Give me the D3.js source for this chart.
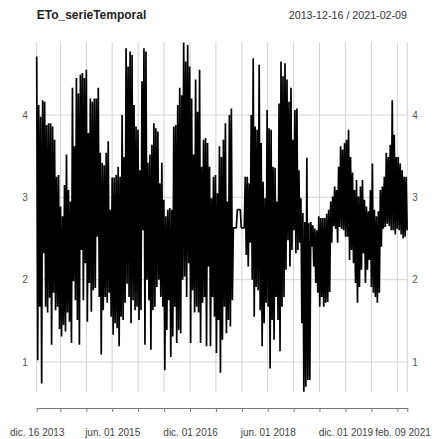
<!DOCTYPE html>
<html><head><meta charset="utf-8">
<script src="https://cdn.jsdelivr.net/npm/d3@7"></script>
<style>body{margin:0;background:#fff}svg{display:block}text{font-family:"Liberation Sans",Arial,sans-serif}</style>
</head><body>
<script>
const seriesName = "ETo_serieTemporal";
const startDate = "2013-12-16";
const endDate = "2021-02-09";
const binDays = 14; // each pair = max / min over a 14-day window
const hiVals = [4.71,4.12,3.98,4.18,4.16,3.88,3.90,3.90,3.86,3.70,3.25,3.27,2.89,2.77,3.15,3.52,3.09,2.95,4.33,3.62,
4.45,4.26,4.49,4.51,4.45,4.55,3.78,4.20,4.16,4.20,4.20,4.33,3.54,3.42,3.39,3.54,3.68,2.85,3.24,3.24,
3.27,3.37,3.25,4.00,3.49,4.81,4.59,4.77,4.73,4.12,3.86,3.82,3.33,4.41,4.81,4.77,3.42,3.52,3.64,3.90,
3.84,3.80,3.17,3.42,2.97,2.77,2.85,2.87,2.85,3.86,3.88,4.12,4.33,4.24,4.88,4.65,4.85,4.59,4.20,3.52,
4.43,4.04,4.55,3.37,3.70,3.72,3.66,3.37,2.99,3.25,3.27,3.05,3.62,3.49,3.70,3.90,2.95,4.00,4.08,2.63,
2.63,2.85,2.85,2.63,2.63,3.25,3.25,3.17,4.00,4.69,3.86,3.82,4.61,3.66,3.19,2.99,4.06,3.84,3.82,3.37,
3.36,2.95,4.14,4.65,4.47,4.63,4.43,4.16,4.33,3.70,4.06,4.08,3.33,2.99,2.81,2.70,3.48,2.69,2.70,2.66,
2.62,2.60,2.77,2.75,2.75,2.75,2.80,2.85,2.95,3.01,3.13,3.09,3.37,3.62,3.58,3.66,3.70,3.82,3.49,3.30,
3.09,3.21,3.01,3.13,3.21,2.97,2.89,2.83,3.09,3.41,2.85,2.77,2.83,3.09,3.13,3.25,3.54,3.49,3.64,4.18,
3.76,3.49,3.49,3.41,3.33,3.25,3.25];
const loVals = [1.02,1.67,0.74,2.32,1.67,1.60,1.78,1.21,1.84,1.63,1.67,1.40,1.31,1.45,1.37,1.60,1.49,1.23,1.98,1.75,
1.51,1.21,2.36,1.75,2.20,1.49,1.96,1.61,1.87,1.90,2.52,1.79,1.09,1.63,1.79,1.72,1.84,1.55,1.33,1.47,
1.41,1.19,1.55,1.51,1.72,1.95,1.79,1.47,1.75,1.63,1.67,1.51,1.63,2.60,1.21,2.00,1.75,1.15,1.63,1.67,
1.91,2.00,1.79,1.67,0.90,1.39,1.75,1.06,1.31,1.67,1.23,1.39,1.35,2.00,2.04,1.79,2.20,1.23,1.87,1.60,
1.67,1.60,1.23,1.72,1.79,1.19,2.16,1.19,1.79,1.55,1.11,1.51,0.87,1.27,1.67,1.35,1.51,1.43,1.75,2.63,
2.63,2.85,2.85,2.63,2.63,2.30,2.16,2.45,2.00,1.55,1.91,1.87,1.63,1.19,1.47,1.72,1.67,0.92,1.51,1.27,
1.79,1.51,1.13,1.67,1.79,2.12,2.48,2.16,2.36,2.60,2.32,2.36,2.45,1.47,0.64,0.70,0.78,0.78,2.40,2.16,
1.96,1.84,1.67,1.79,1.67,1.72,1.73,1.85,2.45,2.65,2.62,2.45,2.64,2.62,2.60,2.52,2.52,2.24,2.36,2.20,
1.96,1.72,1.91,2.12,2.32,1.96,2.12,2.24,1.91,1.84,1.79,1.72,1.84,2.40,2.62,2.64,2.68,2.65,2.60,2.60,
2.55,2.62,2.60,2.55,2.50,2.52,2.60];
const tickDates = ["2013-12-16","2014-06-01","2014-12-01","2015-06-01","2015-12-01","2016-06-01","2016-12-01",
"2017-06-01","2017-12-01","2018-06-01","2018-12-01","2019-06-01","2019-12-01","2020-06-01","2020-12-01","2021-02-09"];
const tickLabels = {"2013-12-16":"dic. 16 2013","2015-06-01":"jun. 01 2015","2016-12-01":"dic. 01 2016",
"2018-06-01":"jun. 01 2018","2019-12-01":"dic. 01 2019","2021-02-09":"feb. 09 2021"};
const yTicks = [1,2,3,4];

const W = 435, H = 439;
const parse = d3.utcParse("%Y-%m-%d");
const t0 = parse(startDate), t1 = parse(endDate);
const plotTop = 42, plotBottom = 392, plotLeft = 36.7, plotRight = 407.3;

const data = [];
hiVals.forEach((h, i) => {
  data.push({d: d3.utcDay.offset(t0, i * binDays), v: h});
  data.push({d: d3.utcDay.offset(t0, i * binDays + binDays / 2), v: loVals[i]});
});

const x = d3.scaleUtc().domain([t0, t1]).range([plotLeft, plotRight]);
const y = d3.scaleLinear().domain([1, 4]).range([362, 115]);

const svg = d3.select("body").append("svg").attr("width", W).attr("height", H);
svg.append("rect").attr("width", W).attr("height", H).attr("fill", "#fff");

// grid
svg.append("g").selectAll("line").data(yTicks).join("line")
  .attr("x1", plotLeft).attr("x2", plotRight)
  .attr("y1", d => y(d)).attr("y2", d => y(d))
  .attr("stroke", "#d3d3d3").attr("stroke-width", 1);
svg.append("g").selectAll("line").data(tickDates).join("line")
  .attr("x1", d => x(parse(d))).attr("x2", d => x(parse(d)))
  .attr("y1", plotTop).attr("y2", plotBottom)
  .attr("stroke", "#d3d3d3").attr("stroke-width", 1);

// series
const line = d3.line().x(d => x(d.d)).y(d => y(d.v));
svg.append("path").datum(data).attr("d", line)
  .attr("fill", "none").attr("stroke", "#000").attr("stroke-width", 1.7)
  .attr("stroke-linejoin", "miter").attr("stroke-miterlimit", 1);

// bottom axis
const xAxis = d3.axisBottom(x).tickValues(tickDates.map(parse))
  .tickSize(4).tickSizeOuter(0)
  .tickFormat(d => tickLabels[d3.utcFormat("%Y-%m-%d")(d)] || "");
const gx = svg.append("g").attr("transform", "translate(0,408)").call(xAxis);
gx.select(".domain").attr("stroke", "#777");
gx.selectAll(".tick line").attr("stroke", "#777");
gx.selectAll(".tick text").attr("font-size", 10).attr("fill", "#444").attr("dy", 0).attr("y", 28);
gx.selectAll(".tick text").filter(d => d3.utcFormat("%Y-%m-%d")(d) === endDate)
  .attr("text-anchor", "end").attr("dx", 23);

// y labels both sides
svg.append("g").selectAll("text").data(yTicks).join("text")
  .attr("x", 25).attr("y", d => y(d) + 3.5).attr("text-anchor", "middle")
  .attr("font-size", 10).attr("fill", "#555").text(d => d);
svg.append("g").selectAll("text").data(yTicks).join("text")
  .attr("x", 415).attr("y", d => y(d) + 3.5).attr("text-anchor", "middle")
  .attr("font-size", 10).attr("fill", "#555").text(d => d);

// titles
svg.append("text").attr("x", plotLeft).attr("y", 19).attr("font-size", 12)
  .attr("font-weight", "bold").attr("fill", "#222").text(seriesName);
svg.append("text").attr("x", 407).attr("y", 19).attr("font-size", 10.7)
  .attr("text-anchor", "end").attr("fill", "#333").text(startDate + " / " + endDate);
</script>
</body></html>
